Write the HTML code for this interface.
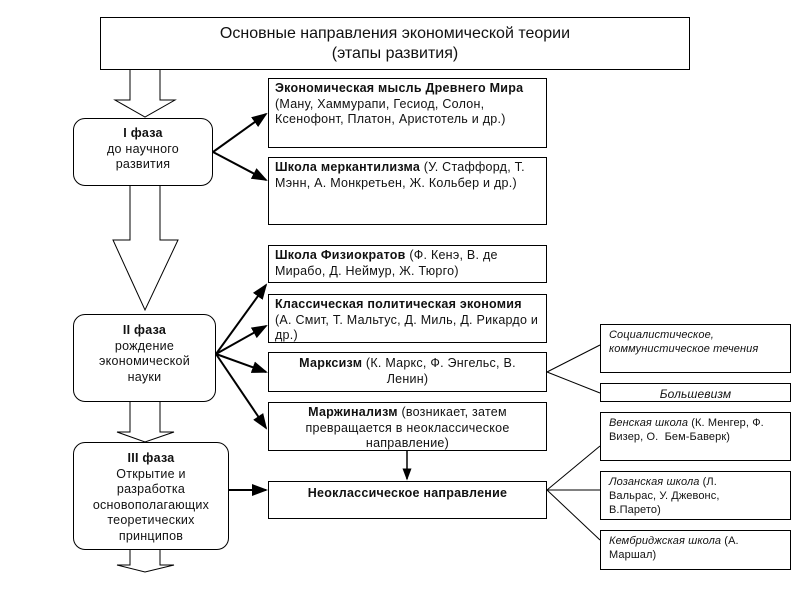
<!DOCTYPE html>
<html><head><meta charset="utf-8"><style>
body{margin:0;width:794px;height:595px;background:#fff;position:relative;font-family:"Liberation Sans",sans-serif;color:#111;overflow:hidden}
.b{position:absolute;border:1px solid #000;background:#fff;box-sizing:border-box;font-size:12.5px;line-height:15.5px;padding:2px 6px;letter-spacing:0.25px}
.r{border-radius:12px;text-align:center;font-size:12.5px;line-height:15.5px}
.s{font-size:11px;line-height:14px;padding:3px 8px;letter-spacing:0.1px}
svg{position:absolute;left:0;top:0}
</style></head><body>
<svg width="794" height="595">
<defs><marker id="a" markerWidth="8" markerHeight="8" refX="7" refY="4" orient="auto"><path d="M0,1 L8,4 L0,7 z" fill="#000"/></marker></defs>
<g fill="#fff" stroke="#000" stroke-width="1">
<path d="M130,70 V100 H115 L145,117 L175,100 H160 V70"/>
<path d="M130,186 V240 H113 L145,310 L178,240 H160 V186"/>
<path d="M130,402 V432 H117 L145,442 L174,432 H160 V402"/>
<path d="M130,550 V565 H117 L145,572 L174,565 H160 V550"/>
</g>
<g stroke="#000" stroke-width="2" marker-end="url(#a)">
<line x1="213" y1="152" x2="266" y2="114"/>
<line x1="213" y1="152" x2="266" y2="180"/>
<line x1="216" y1="354" x2="266" y2="285"/>
<line x1="216" y1="354" x2="266" y2="326"/>
<line x1="216" y1="354" x2="266" y2="372"/>
<line x1="216" y1="354" x2="266" y2="428"/>
<line x1="229" y1="490" x2="266" y2="490"/>
<line x1="407" y1="451" x2="407" y2="479" stroke-width="1.5"/>
</g>
<g stroke="#000" stroke-width="1">
<line x1="547" y1="372" x2="600" y2="345"/>
<line x1="547" y1="372" x2="600" y2="393"/>
<line x1="547" y1="490" x2="600" y2="446"/>
<line x1="547" y1="490" x2="600" y2="490"/>
<line x1="547" y1="490" x2="600" y2="540"/>
</g>
</svg>
<div class="b" style="left:100px;top:17px;width:590px;height:53px;text-align:center;font-size:16px;line-height:20px;padding-top:6px;letter-spacing:0">Основные направления экономической теории<br>(этапы развития)</div>
<div class="b r" style="left:73px;top:118px;width:140px;height:68px;padding-top:7px"><b>I фаза</b><br>до научного<br>развития</div>
<div class="b r" style="left:73px;top:314px;width:143px;height:88px;padding-top:8px"><b>II фаза</b><br>рождение<br>экономической<br>науки</div>
<div class="b r" style="left:73px;top:442px;width:156px;height:108px;padding-top:8px"><b>III фаза</b><br>Открытие и<br>разработка<br>основополагающих<br>теоретических<br>принципов</div>
<div class="b" style="left:268px;top:78px;width:279px;height:70px"><b>Экономическая мысль Древнего Мира</b> (Ману, Хаммурапи, Гесиод, Солон, Ксенофонт, Платон, Аристотель и др.)</div>
<div class="b" style="left:268px;top:157px;width:279px;height:68px"><b>Школа меркантилизма</b> (У. Стаффорд, Т. Мэнн, А. Монкретьен, Ж. Кольбер и др.)</div>
<div class="b" style="left:268px;top:245px;width:279px;height:38px"><b>Школа Физиократов</b> (Ф. Кенэ, В. де Мирабо, Д. Неймур, Ж. Тюрго)</div>
<div class="b" style="left:268px;top:294px;width:279px;height:49px"><b>Классическая политическая экономия</b> (А. Смит, Т. Мальтус, Д. Миль, Д. Рикардо и др.)</div>
<div class="b" style="left:268px;top:352px;width:279px;height:40px;text-align:center;padding:3px 20px 0"><b>Марксизм</b> (К. Маркс, Ф. Энгельс, В. Ленин)</div>
<div class="b" style="left:268px;top:402px;width:279px;height:49px;text-align:center;padding:2px 20px 0"><b>Маржинализм</b> (возникает, затем превращается в неоклассическое направление)</div>
<div class="b" style="left:268px;top:481px;width:279px;height:38px;text-align:center;padding-top:4px"><b>Неоклассическое направление</b></div>
<div class="b s" style="left:600px;top:324px;width:191px;height:49px"><i>Социалистическое, коммунистическое течения</i></div>
<div class="b s" style="left:600px;top:383px;width:191px;height:19px;text-align:center;padding-top:3px;font-size:12px"><i>Большевизм</i></div>
<div class="b s" style="left:600px;top:412px;width:191px;height:49px"><i>Венская школа</i> (К. Менгер, Ф. Визер, О.&nbsp; Бем-Баверк)</div>
<div class="b s" style="left:600px;top:471px;width:191px;height:49px;padding-right:40px"><i>Лозанская школа</i> (Л. Вальрас, У. Джевонс, В.Парето)</div>
<div class="b s" style="left:600px;top:530px;width:191px;height:40px;padding-right:40px"><i>Кембриджская школа</i> (А. Маршал)</div>
</body></html>
